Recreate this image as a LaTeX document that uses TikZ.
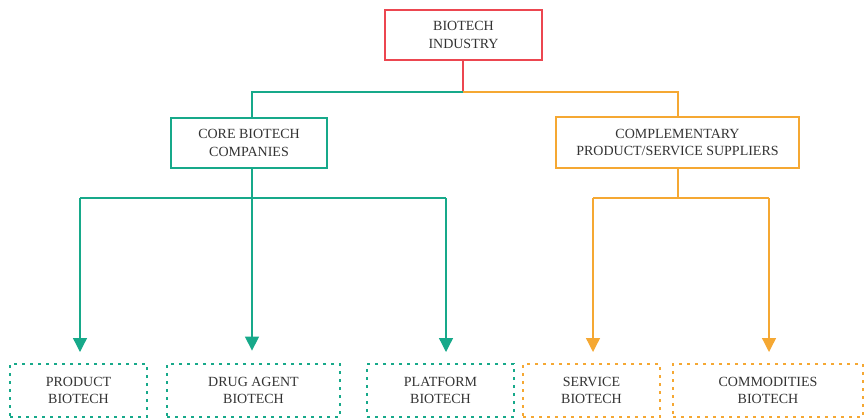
\documentclass[tikz,border=0pt]{standalone}
\usepackage{fontspec}
\setmainfont{Liberation Serif}
\usetikzlibrary{arrows.meta}

\definecolor{bioRed}{HTML}{EC4650}
\definecolor{bioGreen}{HTML}{17A98A}
\definecolor{bioOrange}{HTML}{F5A833}

\begin{document}
\begin{tikzpicture}[x=1pt, y=-1pt,
        every node/.style = {align=center, text=black!80, font=\fontsize{14}{17.5}\selectfont, inner sep=0pt},
        solidbox/.style = {draw=#1, line width=1.3pt},
        dotbox/.style = {draw=#1, line width=2.8pt, dash pattern=on 2.8pt off 5.2pt},
        link/.style = {draw=#1, line width=1.3pt},
        downarrow/.style = {draw=#1, line width=1.3pt, -{Triangle[width=14pt, length=14pt]}, shorten >=12pt}
    ]
    \useasboundingbox (0,0) rectangle (866,418);

    % top level
    \node[solidbox=bioRed, minimum width=157pt, minimum height=50pt] (industry) at (463.5,35) {BIOTECH\\INDUSTRY};

    % second level
    \node[solidbox=bioGreen, minimum width=156pt, minimum height=50pt] (core) at (249,143) {CORE BIOTECH\\COMPANIES};
    \node[solidbox=bioOrange, minimum width=243pt, minimum height=51pt] (compl) at (677.5,142.5) {COMPLEMENTARY\\PRODUCT/SERVICE SUPPLIERS};

    % bottom level
    \node[dotbox=bioGreen, minimum width=137pt, minimum height=53pt] (product) at (78.5,390.5) {PRODUCT\\BIOTECH};
    \node[dotbox=bioGreen, minimum width=173pt, minimum height=53pt] (drug) at (253.5,390.5) {DRUG AGENT\\BIOTECH};
    \node[dotbox=bioGreen, minimum width=147pt, minimum height=53pt] (platform) at (440.5,390.5) {PLATFORM\\BIOTECH};
    \node[dotbox=bioOrange, minimum width=137pt, minimum height=53pt] (service) at (591.5,390.5) {SERVICE\\BIOTECH};
    \node[dotbox=bioOrange, minimum width=190pt, minimum height=53pt] (commod) at (768,390.5) {COMMODITIES\\BIOTECH};

    % junctions
    \coordinate (topsplit) at (463,92);
    \coordinate (coresplit) at (252,198);
    \coordinate (complsplit) at (678,198);

    \draw[link=bioRed] (topsplit |- industry.south) -- (topsplit);
    \draw[link=bioGreen] (topsplit) -| (coresplit |- core.north);
    \draw[link=bioOrange] (topsplit) -| (complsplit |- compl.north);

    \draw[link=bioGreen] (coresplit |- core.south) -- (coresplit);
    \draw[link=bioGreen] (80,198) -- (446,198);
    \draw[downarrow=bioGreen] (80,198) -- (80,364);
    \draw[downarrow=bioGreen] (coresplit) -- (coresplit |- drug.north);
    \draw[downarrow=bioGreen] (446,198) -- (446,364);

    \draw[link=bioOrange] (complsplit |- compl.south) -- (complsplit);
    \draw[link=bioOrange] (593,198) -- (769,198);
    \draw[downarrow=bioOrange] (593,198) -- (593,364);
    \draw[downarrow=bioOrange] (769,198) -- (769,364);
\end{tikzpicture}
\end{document}
